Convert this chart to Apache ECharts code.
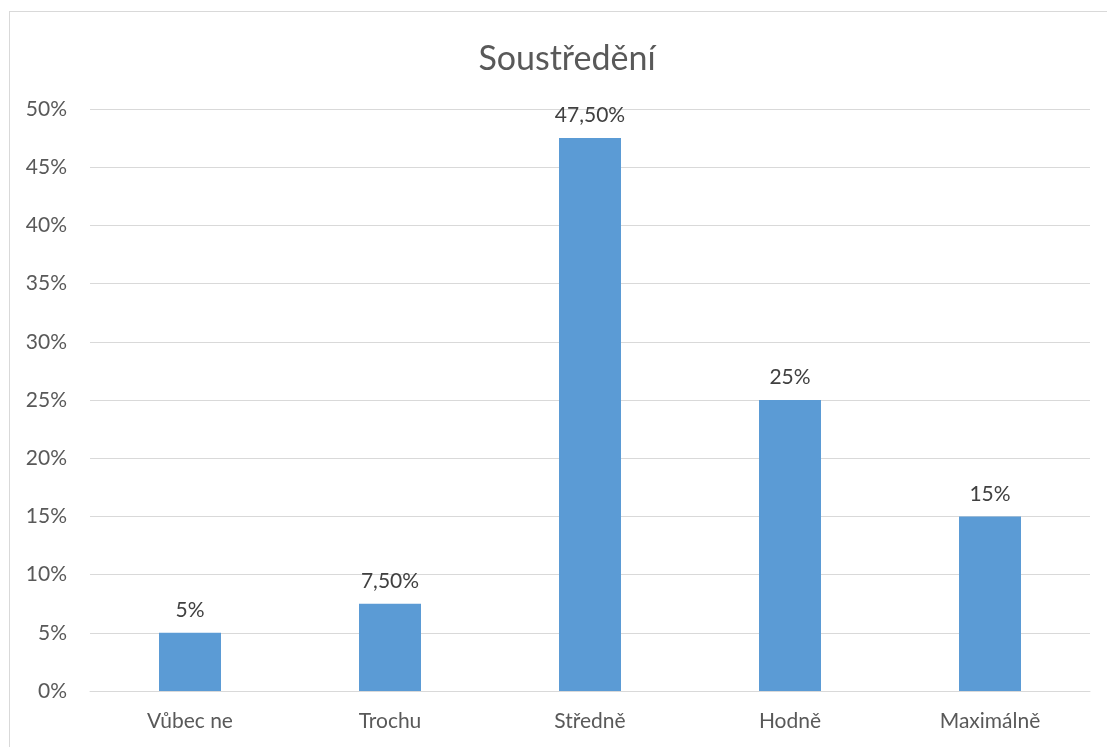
<!DOCTYPE html>
<html>
<head>
<meta charset="utf-8">
<script src="https://cdn.jsdelivr.net/npm/echarts@6/dist/echarts.min.js"></script>
<style>
  html, body { margin: 0; padding: 0; background: #fff; }
  #frame { position: absolute; left: 9px; top: 11px; width: 1100px; height: 750px; border: 1px solid #d9d9d9; box-sizing: border-box; }
  #chart { position: absolute; left: 0; top: 0; width: 1107px; height: 747px; }
</style>
</head>
<body>
<div id="frame"></div>
<div id="chart"></div>
<script>
// kategorie a hodnoty (v %)
const categories = ['Vůbec ne', 'Trochu', 'Středně', 'Hodně', 'Maximálně'];
const values = [5, 7.5, 47.5, 25, 15];

const font = 'Lato, "Open Sans", sans-serif';

function pct(v) {
  if (Number.isInteger(v)) return v + '%';
  return v.toFixed(2).replace('.', ',') + '%';
}

let chart = echarts.init(document.getElementById('chart'), null, { renderer: 'canvas' });

let option = {
  animation: false,
  title: {
    text: 'Soustředění',
    left: 562,
    textAlign: 'center',
    top: 37,
    textStyle: { color: '#595959', fontSize: 34, fontWeight: 'normal', fontFamily: font }
  },
  grid: { left: 90, right: 17, top: 109, bottom: 56, containLabel: false },
  xAxis: {
    type: 'category',
    data: categories,
    axisTick: { show: false },
    axisLine: { lineStyle: { color: '#d9d9d9', width: 1 } },
    axisLabel: { color: '#595959', fontSize: 21, fontFamily: font, margin: 20 }
  },
  yAxis: {
    type: 'value',
    min: 0,
    max: 50,
    interval: 5,
    axisLine: { show: false },
    axisTick: { show: false },
    axisLabel: { color: '#595959', fontSize: 21, fontFamily: font, margin: 23, formatter: v => v + '%' },
    splitLine: { lineStyle: { color: '#d9d9d9', width: 1 } }
  },
  series: [{
    type: 'bar',
    data: values,
    barWidth: '31%',
    itemStyle: { color: '#5b9bd5' },
    label: {
      show: true,
      position: 'top',
      distance: 12,
      color: '#404040',
      fontSize: 21,
      fontFamily: font,
      formatter: p => pct(p.value)
    }
  }]
};

chart.setOption(option);
</script>
</body>
</html>
